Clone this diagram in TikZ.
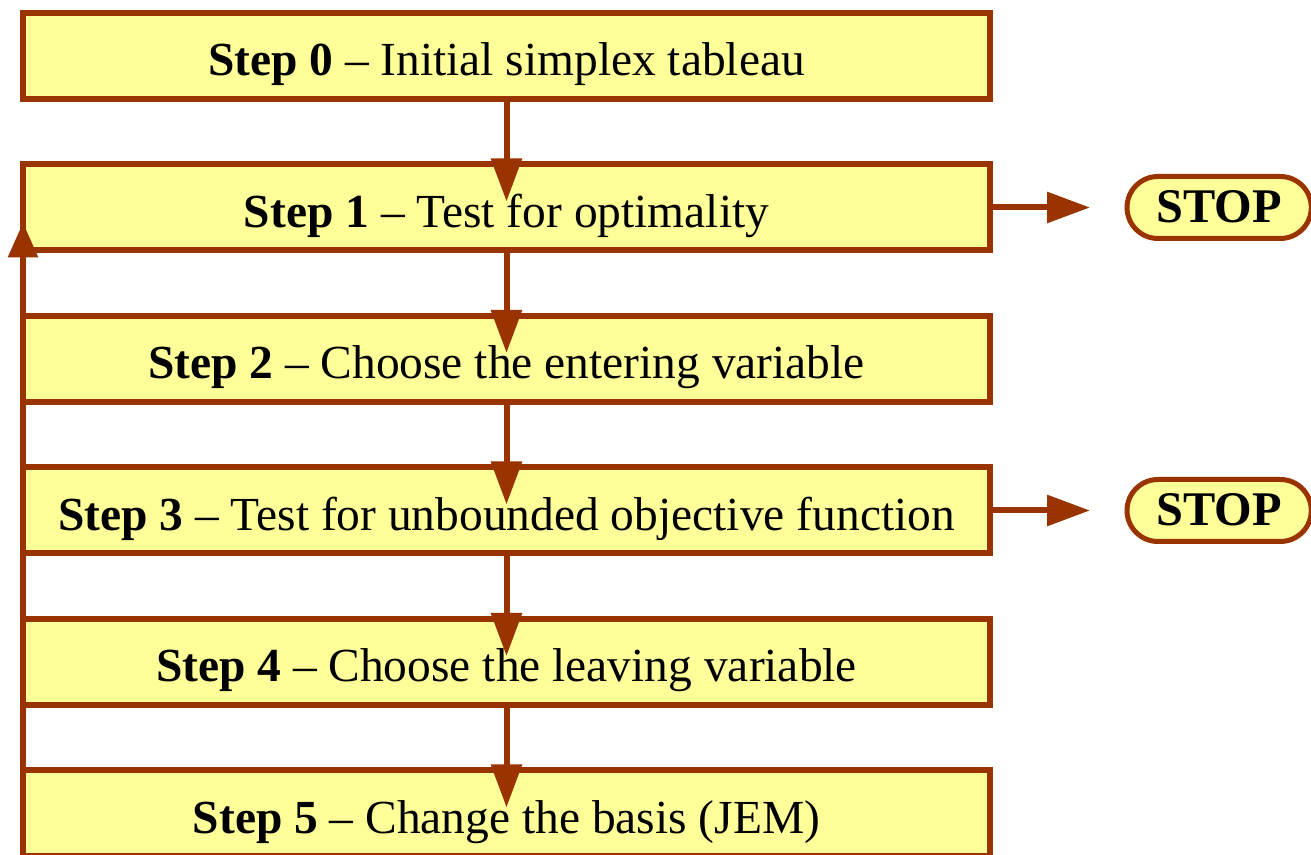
\documentclass[tikz,border=0pt]{standalone}
\usepackage{fontspec}
\setmainfont{Liberation Serif}
\usepackage{xcolor}
\usepackage{tikz}
\usetikzlibrary{arrows.meta, positioning, shapes.misc}
\definecolor{borde}{HTML}{993300}
\definecolor{relleno}{HTML}{FFFF99}

\begin{document}
\begin{tikzpicture}[>={Triangle[length=0.86cm,width=0.6cm]}, line width=0.12cm, node distance=1.31cm,
  paso/.style={draw=borde, fill=relleno, minimum width=19.34cm, minimum height=1.72cm, inner sep=0pt, outer sep=0pt, text height=0.8cm, text depth=0cm, font=\fontsize{27}{32}\selectfont},
  parada/.style={rounded rectangle, draw=borde, line width=0.1cm, fill=relleno, minimum width=3.92cm, minimum height=1.24cm, outer sep=0pt, text height=0.62cm, text depth=0cm, font=\fontsize{27.5}{32}\selectfont\bfseries},
  flecha/.style={->, draw=borde}]
\useasboundingbox (0,0) rectangle (26.22,17.1);
% Pasos
\node[paso] (p0) at (10.13,15.98) {\textbf{Step 0} -- Initial simplex tableau};
\node[paso, below=of p0] (p1) {\textbf{Step 1} -- Test for optimality};
\node[paso, below=of p1] (p2) {\textbf{Step 2} -- Choose the entering variable};
\node[paso, below=of p2] (p3) {\textbf{Step 3} -- Test for unbounded objective function};
\node[paso, below=of p3] (p4) {\textbf{Step 4} -- Choose the leaving variable};
\node[paso, below=of p4] (p5) {\textbf{Step 5} -- Change the basis (JEM)};
% Paradas
\node[parada, right=2.74cm of p1] (s1) {STOP};
\node[parada, right=2.74cm of p3] (s3) {STOP};
% Transiciones
\draw[flecha] (p0.south) -- ([yshift=-0.74cm]p1.north);
\draw[flecha] (p1.south) -- ([yshift=-0.74cm]p2.north);
\draw[flecha] (p2.south) -- ([yshift=-0.74cm]p3.north);
\draw[flecha] (p3.south) -- ([yshift=-0.74cm]p4.north);
\draw[flecha] (p4.south) -- ([yshift=-0.74cm]p5.north);
\draw[flecha] (p1.east) -- ([xshift=-0.74cm]s1.west);
\draw[flecha] (p3.east) -- ([xshift=-0.74cm]s3.west);
\draw[flecha, >={Triangle[length=0.7cm,width=0.58cm]}] (p5.south west) -- ([yshift=0.56cm]p1.south west);
\end{tikzpicture}
\end{document}
